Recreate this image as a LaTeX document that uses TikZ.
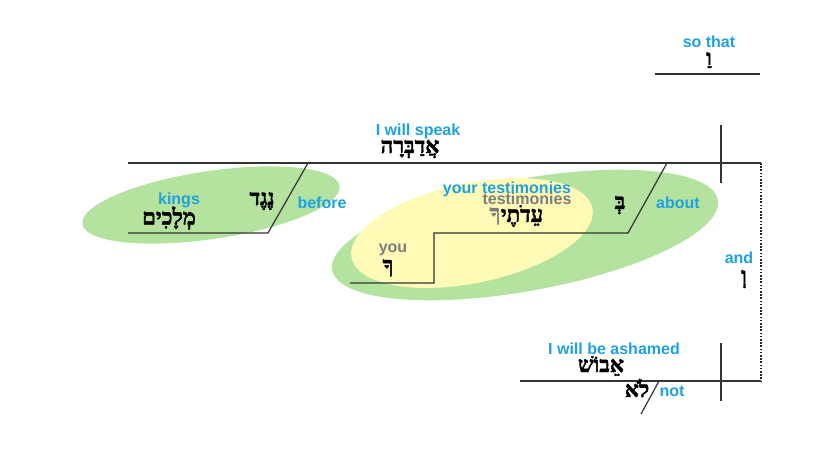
\documentclass[tikz,border=0pt]{standalone}
\usepackage{fontspec}
\setmainfont{Liberation Sans}
\newfontfamily\hebfont[Script=Hebrew, BoldFeatures={FakeBold=2}]{Liberation Serif}
\TeXXeTstate=1
\usepackage{xcolor}
\usetikzlibrary{positioning}
\definecolor{glossblue}{RGB}{30,160,225}
\definecolor{glossgrey}{RGB}{125,125,125}
\definecolor{phrasegreen}{RGB}{180,227,160}
\definecolor{clauseyellow}{RGB}{255,250,182}

\begin{document}
\begin{tikzpicture}[x=0.75pt, y=-0.75pt,
    gloss/.style={text=glossblue, font=\bfseries\fontsize{12}{12}\selectfont, inner sep=0pt},
    greygloss/.style={text=glossgrey, font=\bfseries\fontsize{12}{12}\selectfont, inner sep=0pt},
    hebrew/.style={font=\hebfont\bfseries\fontsize{16.5}{16.5}\selectfont, inner sep=0pt},
    diagline/.style={black!80, line width=0.9pt}]
        \useasboundingbox (0,0) rectangle (825,454);

        % phrase and clause shading
        \coordinate (kingsmid) at (211,205);
        \coordinate (aboutmid) at (525,235);
        \coordinate (testmid) at (472,233);
        \fill[phrasegreen, rotate around={8.4:(kingsmid)}] (kingsmid) ellipse [x radius=130, y radius=34];
        \fill[phrasegreen, rotate around={10.3:(aboutmid)}] (aboutmid) ellipse [x radius=196, y radius=56];
        \fill[clauseyellow, rotate around={11.7:(testmid)}] (testmid) ellipse [x radius=123, y radius=50];

        % main clause
        \coordinate (mainL) at (128,163);
        \coordinate (mainR) at (761,163);
        \coordinate (mainTop) at (721,125);
        \coordinate (mainBot) at (721,183);
        \draw[diagline] (mainL) -- (mainR); % Base line
        \draw[diagline] (mainTop) -- (mainBot); % Divider
        \node[gloss] (speakgl) at (418,131) {I will speak};
        \node[hebrew] (speakheb) at (410,149) {\beginR אֲדַבְּרָה\endR};

        % so that
        \coordinate (thatL) at (655,74);
        \coordinate (thatR) at (760,74);
        \draw[diagline] (thatL) -- (thatR);
        \node[gloss] (thatgl) at (709,42) {so that};
        \node[hebrew] (thatheb) at (709,60) {\beginR וַ\endR};

        % before kings
        \coordinate (beforeTop) at (308,163);
        \coordinate (beforeBot) at (268,233);
        \coordinate (kingsL) at (128,233);
        \draw[diagline] (beforeTop) -- (beforeBot) -- (kingsL);
        \node[gloss] (kingsgl) at (179,200) {kings};
        \node[hebrew] (kingsheb) at (169,218) {\beginR מְלָכִים\endR};
        \node[hebrew] (beforeheb) at (262,201) {\beginR נֶגֶד\endR};
        \node[gloss] (beforegl) at (322,203) {before};

        % about your testimonies
        \coordinate (aboutTop) at (667,163);
        \coordinate (aboutBot) at (628,233);
        \coordinate (stepTop) at (434,233);
        \coordinate (stepBot) at (434,283);
        \coordinate (youL) at (350,283);
        \draw[diagline] (aboutTop) -- (aboutBot) -- (stepTop) -- (stepBot) -- (youL);
        \node[gloss] (testgl) at (507,189) {your testimonies};
        \node[greygloss] (testgrey) at (527,199) {testimonies};
        \node[hebrew] (testheb) at (522,216) {\beginR עֵדֹתֶי\endR};
        \node[hebrew, text=glossgrey, left=0pt of testheb] (suffixheb) {\beginR ךָ\endR};
        \node[hebrew] (aboutheb) at (620,205) {\beginR בְּ\endR};
        \node[gloss] (aboutgl) at (678,203) {about};
        \node[greygloss] (yougl) at (393,250) {you};
        \node[hebrew] (youheb) at (388,268) {\beginR ךָ\endR};

        % and
        \coordinate (ashamedR) at (761,381);
        \draw[black!85, line width=1pt, dash pattern=on 1.2pt off 1.2pt] (mainR) -- (ashamedR);
        \node[gloss] (andgl) at (739,258) {and};
        \node[hebrew] (andheb) at (744,279) {\beginR וְ\endR};

        % I will not be ashamed
        \coordinate (ashamedL) at (520,381);
        \coordinate (ashamedTop) at (721,343);
        \coordinate (ashamedBot) at (721,401);
        \coordinate (notTop) at (659,381);
        \coordinate (notBot) at (641,414);
        \draw[diagline] (ashamedL) -- (ashamedR);
        \draw[diagline] (ashamedTop) -- (ashamedBot);
        \draw[diagline] (notTop) -- (notBot);
        \node[gloss] (ashamedgl) at (614,349) {I will be ashamed};
        \node[hebrew] (ashamedheb) at (601,366) {\beginR אֵבוֹשׁ\endR};
        \node[hebrew] (notheb) at (637,388) {\beginR לֹא\endR};
        \node[gloss] (notgl) at (672,391) {not};
    \end{tikzpicture}
\end{document}
